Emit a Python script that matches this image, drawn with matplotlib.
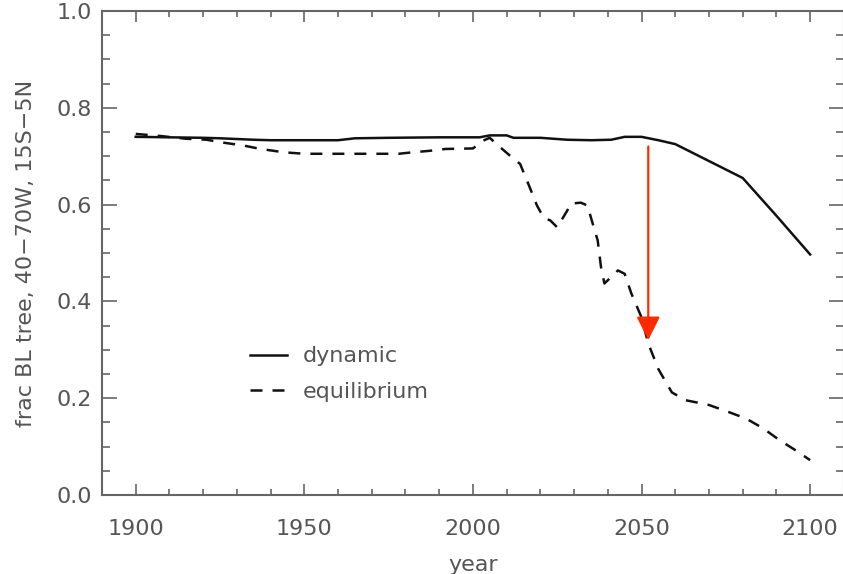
import matplotlib
matplotlib.use("Agg")
import matplotlib.pyplot as plt
from matplotlib.ticker import MultipleLocator

# ---- data ----
dyn_years = [1900, 1910, 1920, 1925, 1935, 1940, 1950, 1960, 1965, 1975, 1990,
             2002, 2005, 2010, 2012, 2020, 2028, 2035, 2041, 2045, 2050, 2055,
             2060, 2070, 2080, 2090, 2100]
dyn_vals = [0.740, 0.739, 0.738, 0.737, 0.734, 0.733, 0.733, 0.733, 0.737, 0.738, 0.739,
            0.739, 0.743, 0.743, 0.738, 0.738, 0.734, 0.733, 0.734, 0.740, 0.740, 0.733,
            0.725, 0.690, 0.655, 0.577, 0.497]

eq_years = [1900, 1907, 1915, 1921, 1926, 1932, 1937, 1944, 1950, 1960, 1970, 1978,
            1982, 1987, 1992, 2000, 2003, 2005, 2007, 2012, 2014, 2017, 2019, 2021,
            2023, 2025, 2028, 2029, 2032, 2034, 2035, 2037, 2038, 2039, 2043, 2045,
            2047, 2050, 2052, 2055, 2059, 2063, 2070, 2076, 2081, 2086, 2091, 2096, 2100]
eq_vals = [0.746, 0.742, 0.736, 0.734, 0.728, 0.722, 0.715, 0.708, 0.705, 0.705, 0.705, 0.705,
           0.708, 0.711, 0.715, 0.716, 0.732, 0.738, 0.725, 0.695, 0.684, 0.633, 0.598, 0.573,
           0.567, 0.553, 0.588, 0.602, 0.604, 0.598, 0.573, 0.526, 0.470, 0.437, 0.464, 0.457,
           0.416, 0.367, 0.313, 0.260, 0.212, 0.196, 0.186, 0.171, 0.158, 0.138, 0.113, 0.091, 0.072]

series_labels = ["dynamic", "equilibrium"]
arrow_year = 2052
arrow_from, arrow_to = 0.72, 0.32

x_ticks = [1900, 1950, 2000, 2050, 2100]
y_ticks = [0.0, 0.2, 0.4, 0.6, 0.8, 1.0]
x_label = "year"
y_label = "frac BL tree, 40\u221270W, 15S\u22125N"

# ---- figure ----
TXT = "#555555"
AXC = "#666666"
plt.rcParams["font.family"] = ["DejaVu Sans"]
fig = plt.figure(figsize=(8.43, 5.74), dpi=100)
ax = fig.add_axes([102 / 843, (574 - 495) / 574, (843 - 102) / 843 + 0.001, (495 - 11) / 574])

ax.plot(dyn_years, dyn_vals, color="#111111", lw=1.8, label=series_labels[0])
ax.plot(eq_years, eq_vals, color="#111111", lw=1.8, linestyle=(0, (4.8, 4.0)),
        label=series_labels[1])

ax.annotate("", xy=(arrow_year, arrow_to), xytext=(arrow_year, arrow_from),
            arrowprops=dict(arrowstyle="-|>,head_length=1.0,head_width=0.5",
                            color="#ff2a00", lw=1.6, mutation_scale=14.4,
                            shrinkA=0, shrinkB=0))

ax.set_xlim(1890, 2110)
ax.set_ylim(0.0, 1.0)
ax.set_xticks(x_ticks)
ax.set_xticklabels([str(v) for v in x_ticks])
ax.set_yticks(y_ticks)
ax.set_yticklabels([f"{v:.1f}" for v in y_ticks])
ax.xaxis.set_minor_locator(MultipleLocator(10))
ax.yaxis.set_minor_locator(MultipleLocator(0.05))

ax.tick_params(axis="x", which="major", direction="in", length=8, width=1.2,
               colors=AXC, labelcolor=TXT, labelsize=16, pad=17, top=True)
ax.tick_params(axis="x", which="minor", direction="in", length=4.3, width=1.2,
               colors=AXC, top=True)
ax.tick_params(axis="y", which="major", direction="in", length=11, width=1.2,
               colors=AXC, labelcolor=TXT, labelsize=16, pad=7, right=True)
ax.tick_params(axis="y", which="minor", direction="in", length=5.8, width=1.2,
               colors=AXC, right=True)
for s in ax.spines.values():
    s.set_color(AXC)
    s.set_linewidth(1.5)

ax.set_xlabel(x_label, fontsize=16, color=TXT, labelpad=12)
ax.set_ylabel(y_label, fontsize=16, color=TXT, labelpad=15)

leg = ax.legend(loc="upper left", bbox_to_anchor=(0.1997, 0.307), frameon=False,
                fontsize=16, handlelength=1.67, handletextpad=0.68,
                labelspacing=0.68, borderpad=0, borderaxespad=0)
for t in leg.get_texts():
    t.set_color(TXT)

fig.savefig("out.png", dpi=100)
